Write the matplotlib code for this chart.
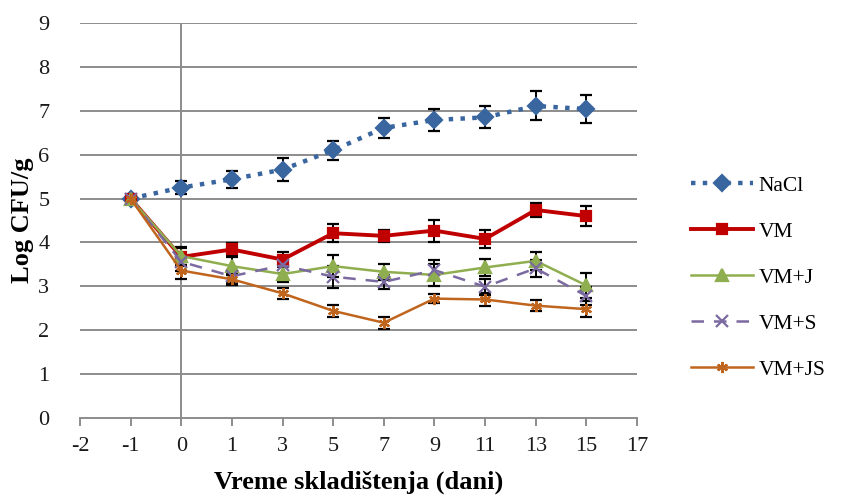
import matplotlib.pyplot as plt
import numpy as np

plt.rcParams['font.family'] = ['Liberation Serif', 'DejaVu Serif']

# x axis categories (equally spaced in the chart)
tick_labels = ['-2', '-1', '0', '1', '3', '5', '7', '9', '11', '13', '15', '17']
days = ['-1', '0', '1', '3', '5', '7', '9', '11', '13', '15']

nacl = [5.00, 5.25, 5.44, 5.66, 6.10, 6.61, 6.79, 6.85, 7.11, 7.04]
nacl_err = [0, 0.15, 0.19, 0.27, 0.22, 0.23, 0.25, 0.25, 0.33, 0.31]

vm = [5.00, 3.67, 3.84, 3.61, 4.21, 4.15, 4.27, 4.08, 4.74, 4.60]
vm_err = [0, 0.20, 0.15, 0.18, 0.20, 0.14, 0.25, 0.21, 0.17, 0.22]

vm_j = [5.00, 3.69, 3.46, 3.28, 3.46, 3.33, 3.26, 3.43, 3.58, 3.02]
vm_j_err = [0, 0.20, 0.20, 0.19, 0.25, 0.18, 0.25, 0.19, 0.20, 0.29]

vm_s = [5.00, 3.56, 3.23, 3.48, 3.22, 3.10, 3.37, 2.99, 3.41, 2.78]
vm_s_err = [0, 0.20, 0.15, 0.18, 0.25, 0.15, 0.23, 0.18, 0.20, 0.20]

vm_js = [5.00, 3.36, 3.16, 2.84, 2.44, 2.17, 2.72, 2.70, 2.56, 2.48]
vm_js_err = [0, 0.20, 0.12, 0.13, 0.14, 0.14, 0.10, 0.15, 0.13, 0.18]

x = np.array([tick_labels.index(d) for d in days])

fig = plt.figure(figsize=(8.41, 4.97), dpi=100)
ax = fig.add_axes([0.0951, 0.159, 0.6623, 0.7947])

grid_c = '#8c8c8c'
for v in range(1, 10):
    ax.axhline(v, color=grid_c, lw=1.4, zorder=0)
ax.axvline(tick_labels.index('0'), color=grid_c, lw=1.4, zorder=0)

series = [
    ('NaCl', nacl, nacl_err, '#3a66a0', ':', 'D', 8, 3.2),
    ('VM', vm, vm_err, '#c00000', '-', 's', 6.5, 2.8),
    ('VM+J', vm_j, vm_j_err, '#8fae4f', '-', '^', 8, 1.8),
    ('VM+S', vm_s, vm_s_err, '#7b6aa0', (0, (5, 4)), 'x', 8, 1.8),
    ('VM+JS', vm_js, vm_js_err, '#c0651e', '-', (6, 2, 0), 8, 1.8),
]
for name, vals, err, c, ls, mk, ms, lw in series:
    ax.errorbar(x, vals, yerr=err, color=c, ls=ls, marker=mk, ms=ms, lw=lw,
                mew=1.6, ecolor='black', elinewidth=1.4, capsize=4.5, capthick=1.4,
                label=name, zorder=3)

ax.set_xlim(0, len(tick_labels) - 1)
ax.set_ylim(0, 9)
ax.set_xticks(range(len(tick_labels)))
ax.set_xticklabels(tick_labels)
ax.set_yticks(range(10))

for s in ['top', 'right', 'left']:
    ax.spines[s].set_visible(False)
ax.spines['bottom'].set_color(grid_c)
ax.spines['bottom'].set_linewidth(1.4)
ax.tick_params(axis='x', colors=grid_c, length=6, width=1.4, pad=8,
               labelsize=16, labelcolor='#1a1a1a')
ax.tick_params(axis='y', length=0, pad=22, labelsize=16, labelcolor='#1a1a1a')

ax.set_xlabel('Vreme skladištenja (dani)', fontsize=19, fontweight='bold', labelpad=10)
ax.set_ylabel('Log CFU/g', fontsize=19, fontweight='bold', labelpad=3)

handles, labels = ax.get_legend_handles_labels()
handles = [h[0] for h in handles]
ax.legend(handles, labels, loc='center left', bbox_to_anchor=(1.097, 0.355),
          frameon=False, fontsize=15.5, handlelength=2.9, labelspacing=1.2,
          handletextpad=0.25, borderpad=0, borderaxespad=0)

fig.savefig('out.png', dpi=100)
